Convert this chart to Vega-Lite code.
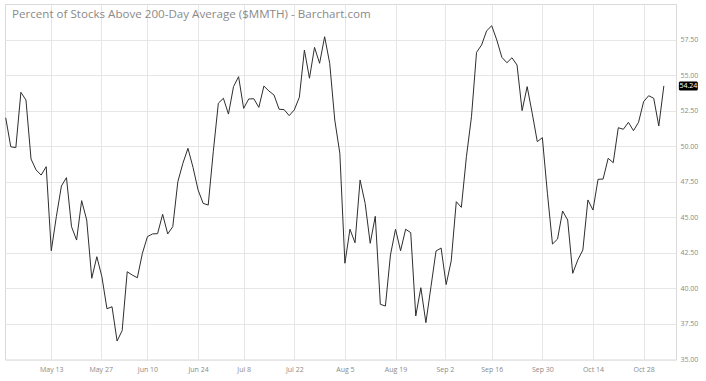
{
  "$schema": "https://vega.github.io/schema/vega-lite/v6.json",
  "autosize": {"type": "none"},
  "padding": {"left": 5, "top": 4, "right": 30, "bottom": 21},
  "width": 671,
  "height": 355.5,
  "background": "white",
  "title": {
    "text": "Percent of Stocks Above 200-Day Average ($MMTH) - Barchart.com",
    "anchor": "start",
    "frame": "group",
    "orient": "top",
    "offset": 0,
    "baseline": "alphabetic",
    "dx": 7,
    "dy": 26,
    "font": "Open Sans",
    "fontSize": 11.6,
    "fontWeight": "normal",
    "color": "#8a8a8a"
  },
  "config": {
    "view": {"stroke": "#d9d9d9", "strokeWidth": 1},
    "axis": {"gridColor": "#e6e6e6", "gridWidth": 1}
  },
  "data": {
    "values": [
      {"i": 0, "date": "2024-04-30", "pct": 52.0},
      {"i": 1, "date": "2024-05-01", "pct": 49.96},
      {"i": 2, "date": "2024-05-02", "pct": 49.9},
      {"i": 3, "date": "2024-05-03", "pct": 53.79},
      {"i": 4, "date": "2024-05-06", "pct": 53.25},
      {"i": 5, "date": "2024-05-07", "pct": 49.1},
      {"i": 6, "date": "2024-05-08", "pct": 48.33},
      {"i": 7, "date": "2024-05-09", "pct": 47.97},
      {"i": 8, "date": "2024-05-10", "pct": 48.56},
      {"i": 9, "date": "2024-05-13", "pct": 42.65},
      {"i": 10, "date": "2024-05-14", "pct": 45.04},
      {"i": 11, "date": "2024-05-15", "pct": 47.2},
      {"i": 12, "date": "2024-05-16", "pct": 47.79},
      {"i": 13, "date": "2024-05-17", "pct": 44.34},
      {"i": 14, "date": "2024-05-20", "pct": 43.4},
      {"i": 15, "date": "2024-05-21", "pct": 46.17},
      {"i": 16, "date": "2024-05-22", "pct": 44.81},
      {"i": 17, "date": "2024-05-23", "pct": 40.71},
      {"i": 18, "date": "2024-05-24", "pct": 42.23},
      {"i": 19, "date": "2024-05-28", "pct": 40.82},
      {"i": 20, "date": "2024-05-29", "pct": 38.57},
      {"i": 21, "date": "2024-05-30", "pct": 38.71},
      {"i": 22, "date": "2024-05-31", "pct": 36.3},
      {"i": 23, "date": "2024-06-03", "pct": 37.03},
      {"i": 24, "date": "2024-06-04", "pct": 41.17},
      {"i": 25, "date": "2024-06-05", "pct": 40.94},
      {"i": 26, "date": "2024-06-06", "pct": 40.75},
      {"i": 27, "date": "2024-06-07", "pct": 42.47},
      {"i": 28, "date": "2024-06-10", "pct": 43.64},
      {"i": 29, "date": "2024-06-11", "pct": 43.83},
      {"i": 30, "date": "2024-06-12", "pct": 43.85},
      {"i": 31, "date": "2024-06-13", "pct": 45.21},
      {"i": 32, "date": "2024-06-14", "pct": 43.83},
      {"i": 33, "date": "2024-06-17", "pct": 44.34},
      {"i": 34, "date": "2024-06-18", "pct": 47.5},
      {"i": 35, "date": "2024-06-19", "pct": 48.8},
      {"i": 36, "date": "2024-06-20", "pct": 49.85},
      {"i": 37, "date": "2024-06-21", "pct": 48.51},
      {"i": 38, "date": "2024-06-24", "pct": 46.92},
      {"i": 39, "date": "2024-06-25", "pct": 45.98},
      {"i": 40, "date": "2024-06-26", "pct": 45.86},
      {"i": 41, "date": "2024-06-27", "pct": 49.61},
      {"i": 42, "date": "2024-06-28", "pct": 53.02},
      {"i": 43, "date": "2024-07-01", "pct": 53.37},
      {"i": 44, "date": "2024-07-02", "pct": 52.26},
      {"i": 45, "date": "2024-07-03", "pct": 54.19},
      {"i": 46, "date": "2024-07-05", "pct": 54.89},
      {"i": 47, "date": "2024-07-08", "pct": 52.66},
      {"i": 48, "date": "2024-07-09", "pct": 53.32},
      {"i": 49, "date": "2024-07-10", "pct": 53.34},
      {"i": 50, "date": "2024-07-11", "pct": 52.73},
      {"i": 51, "date": "2024-07-12", "pct": 54.23},
      {"i": 52, "date": "2024-07-15", "pct": 53.88},
      {"i": 53, "date": "2024-07-16", "pct": 53.6},
      {"i": 54, "date": "2024-07-17", "pct": 52.6},
      {"i": 55, "date": "2024-07-18", "pct": 52.57},
      {"i": 56, "date": "2024-07-19", "pct": 52.15},
      {"i": 57, "date": "2024-07-22", "pct": 52.55},
      {"i": 58, "date": "2024-07-23", "pct": 53.44},
      {"i": 59, "date": "2024-07-24", "pct": 56.76},
      {"i": 60, "date": "2024-07-25", "pct": 54.78},
      {"i": 61, "date": "2024-07-26", "pct": 56.95},
      {"i": 62, "date": "2024-07-29", "pct": 55.83},
      {"i": 63, "date": "2024-07-30", "pct": 57.7},
      {"i": 64, "date": "2024-07-31", "pct": 55.83},
      {"i": 65, "date": "2024-08-01", "pct": 51.84},
      {"i": 66, "date": "2024-08-02", "pct": 49.5},
      {"i": 67, "date": "2024-08-05", "pct": 41.77},
      {"i": 68, "date": "2024-08-06", "pct": 44.16},
      {"i": 69, "date": "2024-08-07", "pct": 43.21},
      {"i": 70, "date": "2024-08-08", "pct": 47.62},
      {"i": 71, "date": "2024-08-09", "pct": 45.98},
      {"i": 72, "date": "2024-08-12", "pct": 43.17},
      {"i": 73, "date": "2024-08-13", "pct": 45.07},
      {"i": 74, "date": "2024-08-14", "pct": 38.88},
      {"i": 75, "date": "2024-08-15", "pct": 38.76},
      {"i": 76, "date": "2024-08-16", "pct": 42.35},
      {"i": 77, "date": "2024-08-19", "pct": 44.16},
      {"i": 78, "date": "2024-08-20", "pct": 42.65},
      {"i": 79, "date": "2024-08-21", "pct": 44.16},
      {"i": 80, "date": "2024-08-22", "pct": 43.92},
      {"i": 81, "date": "2024-08-23", "pct": 38.06},
      {"i": 82, "date": "2024-08-26", "pct": 40.05},
      {"i": 83, "date": "2024-08-27", "pct": 37.59},
      {"i": 84, "date": "2024-08-28", "pct": 40.12},
      {"i": 85, "date": "2024-08-29", "pct": 42.63},
      {"i": 86, "date": "2024-08-30", "pct": 42.84},
      {"i": 87, "date": "2024-09-03", "pct": 40.27},
      {"i": 88, "date": "2024-09-04", "pct": 41.94},
      {"i": 89, "date": "2024-09-05", "pct": 46.1},
      {"i": 90, "date": "2024-09-06", "pct": 45.7},
      {"i": 91, "date": "2024-09-09", "pct": 49.26},
      {"i": 92, "date": "2024-09-10", "pct": 52.07},
      {"i": 93, "date": "2024-09-11", "pct": 56.6},
      {"i": 94, "date": "2024-09-12", "pct": 57.12},
      {"i": 95, "date": "2024-09-13", "pct": 58.12},
      {"i": 96, "date": "2024-09-16", "pct": 58.47},
      {"i": 97, "date": "2024-09-17", "pct": 57.47},
      {"i": 98, "date": "2024-09-18", "pct": 56.25},
      {"i": 99, "date": "2024-09-19", "pct": 55.87},
      {"i": 100, "date": "2024-09-20", "pct": 56.22},
      {"i": 101, "date": "2024-09-23", "pct": 55.71},
      {"i": 102, "date": "2024-09-24", "pct": 52.5},
      {"i": 103, "date": "2024-09-25", "pct": 54.19},
      {"i": 104, "date": "2024-09-26", "pct": 52.31},
      {"i": 105, "date": "2024-09-27", "pct": 50.32},
      {"i": 106, "date": "2024-09-30", "pct": 50.6},
      {"i": 107, "date": "2024-10-01", "pct": 46.69},
      {"i": 108, "date": "2024-10-02", "pct": 43.12},
      {"i": 109, "date": "2024-10-03", "pct": 43.47},
      {"i": 110, "date": "2024-10-04", "pct": 45.44},
      {"i": 111, "date": "2024-10-07", "pct": 44.81},
      {"i": 112, "date": "2024-10-08", "pct": 41.06},
      {"i": 113, "date": "2024-10-09", "pct": 42.0},
      {"i": 114, "date": "2024-10-10", "pct": 42.7},
      {"i": 115, "date": "2024-10-11", "pct": 46.22},
      {"i": 116, "date": "2024-10-14", "pct": 45.51},
      {"i": 117, "date": "2024-10-15", "pct": 47.67},
      {"i": 118, "date": "2024-10-16", "pct": 47.69},
      {"i": 119, "date": "2024-10-17", "pct": 49.15},
      {"i": 120, "date": "2024-10-18", "pct": 48.84},
      {"i": 121, "date": "2024-10-21", "pct": 51.3},
      {"i": 122, "date": "2024-10-22", "pct": 51.19},
      {"i": 123, "date": "2024-10-23", "pct": 51.68},
      {"i": 124, "date": "2024-10-24", "pct": 51.09},
      {"i": 125, "date": "2024-10-25", "pct": 51.68},
      {"i": 126, "date": "2024-10-28", "pct": 53.13},
      {"i": 127, "date": "2024-10-29", "pct": 53.55},
      {"i": 128, "date": "2024-10-30", "pct": 53.37},
      {"i": 129, "date": "2024-10-31", "pct": 51.42},
      {"i": 130, "date": "2024-11-01", "pct": 54.24}
    ]
  },
  "encoding": {
    "x": {
      "field": "i",
      "type": "quantitative",
      "scale": {"domain": [-0.14, 132.4], "nice": false, "zero": false},
      "axis": {
        "title": null,
        "values": [9, 18.75, 28, 38, 47, 57, 67, 77, 86.75, 96, 106, 116, 126],
        "labelExpr": "['May 13','May 27','Jun 10','Jun 24','Jul 8','Jul 22','Aug 5','Aug 19','Sep 2','Sep 16','Sep 30','Oct 14','Oct 28'][indexof([9, 18.75, 28, 38, 47, 57, 67, 77, 86.75, 96, 106, 116, 126], datum.value)]",
        "ticks": false,
        "domain": false,
        "grid": true,
        "labelFont": "Open Sans",
        "labelFontSize": 7,
        "labelColor": "#8a8a8a",
        "labelPadding": 6,
        "labelFlush": false
      }
    },
    "y": {
      "field": "pct",
      "type": "quantitative",
      "scale": {"domain": [35, 60], "nice": false, "zero": false},
      "axis": {
        "title": null,
        "orient": "right",
        "values": [35, 37.5, 40, 42.5, 45, 47.5, 50, 52.5, 55, 57.5],
        "format": ".2f",
        "ticks": false,
        "domain": false,
        "grid": true,
        "labelFont": "Open Sans",
        "labelFontSize": 7,
        "labelColor": "#8a8a8a",
        "labelPadding": 4,
        "labelFlush": false
      }
    }
  },
  "layer": [
    {
      "mark": {"type": "line", "color": "#2e2e2e", "strokeWidth": 1}
    },
    {
      "transform": [{"filter": "datum.i == 130"}],
      "mark": {"type": "rect", "color": "#000000", "xOffset": 15, "x2Offset": 34, "yOffset": -4.5, "y2Offset": 4.5, "cornerRadius": 1.5},
      "encoding": {
        "x2": {"field": "i"},
        "y2": {"field": "pct"}
      }
    },
    {
      "transform": [{"filter": "datum.i == 130"}],
      "mark": {"type": "text", "color": "#ffffff", "dx": 24.5, "align": "center", "baseline": "middle", "font": "Open Sans", "fontSize": 7},
      "encoding": {
        "text": {"field": "pct", "type": "quantitative", "format": ".2f"}
      }
    }
  ]
}
